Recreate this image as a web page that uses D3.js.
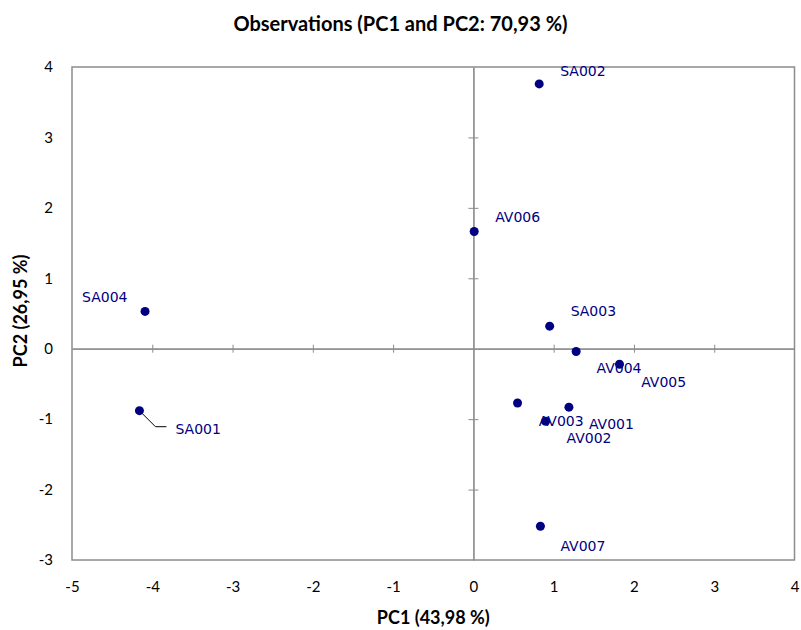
<!DOCTYPE html>
<html>
<head>
<meta charset="utf-8">
<script src="https://cdn.jsdelivr.net/npm/d3@7"></script>
<style>
  body { margin: 0; background: #fff; }
  svg { display: block; }
</style>
</head>
<body>
<svg id="chart" width="801" height="630"></svg>
<script>
// observations
var names = ["SA002", "AV006", "SA004", "SA001", "SA003", "AV005", "AV004", "AV002", "AV001", "AV003", "AV007"];
var pc1 = [0.82, 0.01, -4.09, -4.16, 0.95, 1.28, 1.82, 0.55, 1.19, 0.90, 0.835];
var pc2 = [3.76, 1.665, 0.53, -0.88, 0.32, -0.04, -0.22, -0.77, -0.83, -1.03, -2.52];

var xTicks = [-5, -4, -3, -2, -1, 0, 1, 2, 3, 4];
var yTicks = [-3, -2, -1, 0, 1, 2, 3, 4];

// label placement relative to the point (px), like the original
var labelOffset = {
  SA002: [21, -8], AV006: [21, -9], SA004: [-63, -9], SA001: [36, 23],
  SA003: [21, -10], AV005: [65, 35], AV004: [-23, 9], AV002: [49, 40],
  AV001: [20, 22], AV003: [-7, 5], AV007: [20, 25]
};

var width = 801, height = 630;
var margin = {top: 67, right: 6, bottom: 70, left: 72};
var svg = d3.select("#chart");

var x = d3.scaleLinear().domain([-5, 4]).range([margin.left, width - margin.right - 0.5]);
var y = d3.scaleLinear().domain([-3, 4]).range([height - margin.bottom, margin.top]);

var navy = "#000080";
var grey = "#8c8c8c";
var tickFont = "Lato, 'Liberation Sans', sans-serif";
var fmt = function(d) { return d < 0 ? "-" + Math.abs(d) : String(d); };

// frame
svg.append("rect")
  .attr("x", x(-5)).attr("y", y(4))
  .attr("width", x(4) - x(-5)).attr("height", y(-3) - y(4))
  .attr("fill", "none").attr("stroke", grey).attr("stroke-width", 1.5);

// axes through the origin, ticks crossing the line
function crossAxis(g) {
  g.selectAll("text").remove();
  g.selectAll("line").attr("stroke", grey);
  g.select(".domain").attr("stroke", grey).attr("stroke-width", 1.2);
}
var innerX = xTicks.filter(function(d) { return d > -5 && d < 4 && d !== 0; });
var innerY = yTicks.filter(function(d) { return d > -3 && d < 4 && d !== 0; });

svg.append("g").attr("transform", "translate(0," + y(0) + ")")
  .call(d3.axisBottom(x).tickValues(innerX).tickSizeInner(4).tickSizeOuter(0)).call(crossAxis);
svg.append("g").attr("transform", "translate(0," + y(0) + ")")
  .call(d3.axisTop(x).tickValues(innerX).tickSizeInner(4).tickSizeOuter(0)).call(crossAxis);
svg.append("g").attr("transform", "translate(" + x(0) + ",0)")
  .call(d3.axisLeft(y).tickValues(innerY).tickSizeInner(5).tickSizeOuter(0)).call(crossAxis);
svg.append("g").attr("transform", "translate(" + x(0) + ",0)")
  .call(d3.axisRight(y).tickValues(innerY).tickSizeInner(5).tickSizeOuter(0)).call(crossAxis);

// tick labels along the frame
function labelAxis(g) {
  g.select(".domain").remove();
  g.selectAll("line").remove();
  g.selectAll("text").attr("font-family", tickFont).attr("font-size", 15).attr("fill", "#000");
}
svg.append("g").attr("transform", "translate(0,575)")
  .call(d3.axisBottom(x).tickValues(xTicks).tickFormat(fmt).tickSize(0).tickPadding(6)).call(labelAxis);
svg.append("g").attr("transform", "translate(" + (x(-5) - 19) + ",0)")
  .call(d3.axisLeft(y).tickValues(yTicks).tickFormat(fmt).tickSize(0).tickPadding(0)).call(labelAxis);

// titles
svg.append("text")
  .attr("x", width / 2).attr("y", 31)
  .attr("text-anchor", "middle")
  .attr("font-family", tickFont).attr("font-weight", "bold").attr("font-size", 20)
  .text("Observations (PC1 and PC2: 70,93 %)");

svg.append("text")
  .attr("x", (x(-5) + x(4)) / 2).attr("y", 624)
  .attr("text-anchor", "middle")
  .attr("font-family", tickFont).attr("font-weight", "bold").attr("font-size", 18)
  .text("PC1 (43,98 %)");

svg.append("text")
  .attr("transform", "translate(27,311) rotate(-90)")
  .attr("text-anchor", "middle")
  .attr("font-family", tickFont).attr("font-weight", "bold").attr("font-size", 18)
  .text("PC2 (26,95 %)");

var obs = names.map(function(n, i) { return {name: n, x: pc1[i], y: pc2[i]}; });

// leader line for SA001
var sa1 = obs.filter(function(d) { return d.name === "SA001"; })[0];
svg.append("path")
  .attr("d", d3.line()([[x(sa1.x), y(sa1.y)], [x(sa1.x) + 16, y(sa1.y) + 16], [x(sa1.x) + 27, y(sa1.y) + 16]]))
  .attr("fill", "none").attr("stroke", "#000").attr("stroke-width", 1);

// points
svg.append("g").selectAll("circle")
  .data(obs)
  .enter().append("circle")
  .attr("cx", function(d) { return x(d.x); })
  .attr("cy", function(d) { return y(d.y); })
  .attr("r", 4.5)
  .attr("fill", navy);

// labels
svg.append("g").selectAll("text")
  .data(obs)
  .enter().append("text")
  .attr("x", function(d) { return x(d.x) + labelOffset[d.name][0]; })
  .attr("y", function(d) { return y(d.y) + labelOffset[d.name][1]; })
  .attr("font-family", "'DejaVu Sans', Verdana, sans-serif")
  .attr("font-size", 14)
  .attr("fill", navy)
  .text(function(d) { return d.name; });
</script>
</body>
</html>
